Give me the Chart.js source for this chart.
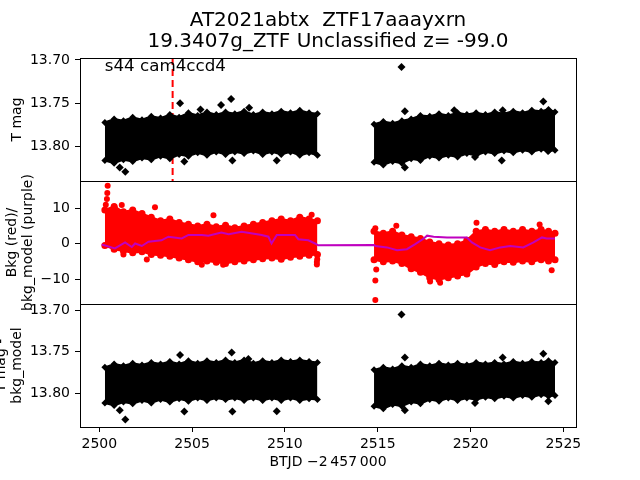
<!DOCTYPE html>
<html>
<head>
<meta charset="utf-8">
<title>AT2021abtx light curve</title>
<script src="https://cdn.jsdelivr.net/npm/chart.js"></script>
<style>
  body { margin: 0; background: #fff; }
</style>
</head>
<body>
<canvas id="lc" width="640" height="480"></canvas>
<script>
// values
var titleLines = ["AT2021abtx  ZTF17aaayxrn", "19.3407g_ZTF Unclassified z= -99.0"];
var sectorLabel = "s44 cam4ccd4";
var xTicks = [2500, 2505, 2510, 2515, 2520, 2525];
var magTicks = [13.70, 13.75, 13.80];
var bkgTicks = [-10, 0, 10];
var xRange = [2498.96, 2525.68];
var magRange = [13.6977, 13.8396];
var bkgRange = [-16.9, 17.65];
var corrRange = [13.6924, 13.8411];
var peakTime = 2503.95;

// sampling times of the band envelopes (two orbits)
var time1 = [2500.3, 2500.8, 2501.3, 2501.8, 2502.3, 2502.8, 2503.3, 2503.8, 2504.3, 2504.8, 2505.3, 2505.8,
             2506.3, 2506.8, 2507.3, 2507.8, 2508.3, 2508.8, 2509.3, 2509.8, 2510.3, 2510.8, 2511.3, 2511.75];
var time2 = [2514.8, 2515.3, 2515.8, 2516.3, 2516.8, 2517.3, 2517.8, 2518.3, 2518.8, 2519.3, 2519.8,
             2520.3, 2520.8, 2521.3, 2521.8, 2522.3, 2522.8, 2523.3, 2523.8, 2524.2, 2524.55];

// T mag, bright / faint edge of the dense band
var tmagTop1 = [13.772, 13.768, 13.770, 13.766, 13.769, 13.765, 13.767, 13.763, 13.766, 13.761, 13.764, 13.760,
                13.763, 13.760, 13.762, 13.759, 13.763, 13.760, 13.762, 13.759, 13.761, 13.758, 13.761, 13.762];
var tmagBot1 = [13.816, 13.819, 13.815, 13.817, 13.813, 13.815, 13.811, 13.814, 13.809, 13.811, 13.807, 13.810,
                13.806, 13.809, 13.806, 13.808, 13.805, 13.809, 13.806, 13.809, 13.806, 13.810, 13.807, 13.810];
var tmagTop2 = [13.774, 13.771, 13.773, 13.770, 13.768, 13.764, 13.765, 13.762, 13.764, 13.761, 13.763,
                13.761, 13.763, 13.760, 13.762, 13.759, 13.761, 13.758, 13.759, 13.757, 13.760];
var tmagBot2 = [13.818, 13.821, 13.817, 13.819, 13.814, 13.816, 13.811, 13.813, 13.810, 13.812, 13.808,
                13.810, 13.806, 13.808, 13.805, 13.807, 13.804, 13.806, 13.803, 13.805, 13.804];
var tmagOutX = [2501.1, 2501.4, 2504.35, 2504.58, 2505.45, 2506.56, 2507.1, 2507.17, 2508.07, 2509.56,
                2516.28, 2516.46, 2516.46, 2519.12, 2520.24, 2521.68, 2521.73, 2523.92, 2524.17];
var tmagOutY = [13.824, 13.829, 13.750, 13.817, 13.757, 13.752, 13.745, 13.816, 13.755, 13.816,
                13.708, 13.759, 13.824, 13.758, 13.812, 13.816, 13.758, 13.748, 13.805];

// background flux, upper / lower edge of the red cloud
var bkgTop1 = [9.5, 10.5, 9.0, 9.5, 8.5, 7.5, 6.5, 7.0, 6.0, 5.5, 5.0, 5.5,
               4.8, 5.2, 4.5, 5.0, 5.5, 6.0, 6.5, 7.0, 6.5, 7.5, 7.0, 6.5];
var bkgBot1 = [-0.5, -1.5, -2.0, -2.5, -2.2, -3.0, -3.2, -3.5, -4.0, -4.5, -5.0, -4.8,
               -5.2, -5.5, -5.0, -4.8, -4.5, -4.2, -4.0, -4.3, -3.8, -3.5, -3.2, -3.0];
var bkgTop2 = [3.5, 3.0, 3.5, 2.5, 2.0, 1.5, 0.5, 0.0, -0.3, 0.0, 1.0,
               3.5, 4.0, 3.5, 4.0, 3.5, 4.0, 3.5, 4.0, 3.5, 3.0];
var bkgBot2 = [-4.5, -5.0, -4.8, -5.5, -7.0, -8.0, -9.5, -10.0, -9.5, -9.0, -8.5,
               -6.5, -5.5, -5.8, -5.0, -5.2, -4.8, -5.0, -4.5, -4.8, -4.5];
var bkgOutX = [2500.45, 2500.43, 2500.41, 2500.35, 2500.82, 2501.21, 2501.3, 2502.56, 2503.0, 2505.52,
               2506.15, 2506.67, 2511.44, 2511.72, 2511.74, 2511.72,
               2514.87, 2514.87, 2514.92, 2514.87, 2516.0, 2517.82, 2518.36, 2520.32, 2523.72, 2524.37];
var bkgOutY = [16.3, 14.3, 12.6, 11.0, 10.3, 10.9, -3.0, -4.4, 10.3, -5.9,
               8.0, -5.9, 8.2, -5.1, -4.3, -5.8,
               -15.8, -10.3, -7.2, 4.4, 5.1, -10.6, -10.9, 5.9, 5.4, -7.4];

// background model (purple)
var modelX = [2500.13, 2500.84, 2501.39, 2501.75, 2501.93, 2502.29, 2502.65, 2503.35, 2503.72, 2504.44,
              2504.8, 2505.52, 2505.87, 2506.57, 2506.97, 2507.67, 2508.75, 2509.11, 2509.28, 2509.56,
              2510.54, 2510.72, 2511.26, 2511.62, 2511.79, 2514.8, 2514.87, 2515.5, 2516.04, 2516.57,
              2517.02, 2517.48, 2517.66, 2518.01, 2518.73, 2519.43, 2519.8, 2520.07, 2520.52, 2521.05,
              2521.6, 2522.14, 2522.84, 2523.39, 2523.85, 2524.1, 2524.55];
var modelY = [-0.2, -1.3, 0.4, -0.9, 0.1, -0.6, 0.6, 1.0, 2.0, 1.5,
              2.5, 2.5, 2.3, 3.2, 2.7, 3.4, 2.5, 2.0, 0.1, 2.5,
              2.5, 1.3, 1.0, 0.1, -0.4, -0.3, -0.6, -1.0, -1.8, -1.5,
              -0.1, 1.5, 2.3, 2.0, 1.8, 1.8, 1.8, 0.4, -1.0, -1.8,
              -1.0, -0.6, -1.0, 0.4, 1.8, 1.5, 1.5];

// T mag minus background model
var corrTop1 = [13.769, 13.765, 13.767, 13.764, 13.766, 13.763, 13.765, 13.762, 13.765, 13.761, 13.764, 13.761,
                13.763, 13.760, 13.763, 13.760, 13.764, 13.761, 13.763, 13.760, 13.762, 13.760, 13.762, 13.763];
var corrBot1 = [13.812, 13.815, 13.811, 13.813, 13.809, 13.812, 13.808, 13.811, 13.807, 13.810, 13.806, 13.809,
                13.806, 13.808, 13.806, 13.809, 13.806, 13.809, 13.806, 13.809, 13.806, 13.809, 13.807, 13.808];
var corrTop2 = [13.772, 13.769, 13.771, 13.767, 13.769, 13.765, 13.767, 13.764, 13.766, 13.764, 13.766,
                13.763, 13.765, 13.763, 13.765, 13.762, 13.764, 13.762, 13.763, 13.761, 13.763];
var corrBot2 = [13.816, 13.819, 13.814, 13.816, 13.811, 13.813, 13.808, 13.810, 13.806, 13.809, 13.806,
                13.808, 13.805, 13.807, 13.804, 13.806, 13.803, 13.805, 13.802, 13.804, 13.803];
var corrOutX = [2501.4, 2501.1, 2507.13, 2504.35, 2504.58, 2507.17, 2509.56, 2508.03,
                2516.28, 2516.46, 2516.46, 2523.92, 2521.73, 2524.19, 2520.24];
var corrOutY = [13.832, 13.821, 13.751, 13.754, 13.8225, 13.8225, 13.822, 13.759,
                13.705, 13.757, 13.821, 13.7526, 13.757, 13.81, 13.812];

var FONT = "DejaVu Sans";

function pts(xs, ys) {
    return xs.map(function (x, i) { return { x: x, y: ys[i] }; });
}

// filled envelope; the sample points get markers so the edge looks ragged like the dense scatter
function band(xs, top, bot, axis, color, style, order) {
    var common = { yAxisID: axis, borderColor: color, backgroundColor: color, borderWidth: 2,
                   pointStyle: style, pointRadius: 3.5, pointBorderWidth: 0, order: order };
    return [
        Object.assign({ data: pts(xs, top), fill: "+1" }, common),
        Object.assign({ data: pts(xs, bot), fill: false }, common)
    ];
}

function scatter(xs, ys, axis, color, style, radius, order) {
    return { data: pts(xs, ys), yAxisID: axis, showLine: false, pointStyle: style, pointRadius: radius,
             backgroundColor: color, borderColor: color, borderWidth: 0, order: order };
}

function yAxis(range, ticks, rev, label, pad, fmt) {
    return {
        type: "linear", position: "left", stack: "panels", stackWeight: 1,
        reverse: rev, min: range[0], max: range[1],
        afterFit: function (s) { s.width = 80; },
        afterBuildTicks: function (s) { s.ticks = ticks.map(function (v) { return { value: v }; }); },
        ticks: { callback: fmt, color: "#000", padding: 5, font: { family: FONT, size: 14 } },
        grid: { drawOnChartArea: false, drawTicks: true, tickLength: 5, tickColor: "#000" },
        border: { display: true, color: "#000", width: 1 },
        title: { display: true, text: label, color: "#000", padding: { top: pad, bottom: 0 },
                 font: { family: FONT, size: 14, lineHeight: 1.15 } }
    };
}

var magFmt = function (v) { return v.toFixed(2); };
var bkgFmt = function (v) { return v < 0 ? "\u2212" + Math.abs(v) : String(v); };

var datasets = [];
datasets.push({ data: pts(modelX, modelY), yAxisID: "yBkg", borderColor: "#bf00bf", borderWidth: 2,
                pointRadius: 0, fill: false, order: 0 });
datasets.push(scatter(bkgOutX, bkgOutY, "yBkg", "#ff0000", "circle", 3, 1));
datasets = datasets.concat(band(time1, bkgTop1, bkgBot1, "yBkg", "#ff0000", "circle", 2));
datasets = datasets.concat(band(time2, bkgTop2, bkgBot2, "yBkg", "#ff0000", "circle", 2));
datasets.push(scatter(tmagOutX, tmagOutY, "yMag", "#000", "rectRot", 4, 1));
datasets = datasets.concat(band(time1, tmagTop1, tmagBot1, "yMag", "#000", "rectRot", 2));
datasets = datasets.concat(band(time2, tmagTop2, tmagBot2, "yMag", "#000", "rectRot", 2));
datasets.push({ data: [{ x: peakTime, y: magRange[0] }, { x: peakTime, y: magRange[1] }], yAxisID: "yMag",
                borderColor: "#ff0000", borderWidth: 2, borderDash: [7, 4], pointRadius: 0, fill: false, order: 5 });
datasets.push(scatter(corrOutX, corrOutY, "yCorr", "#000", "rectRot", 4, 1));
datasets = datasets.concat(band(time1, corrTop1, corrBot1, "yCorr", "#000", "rectRot", 2));
datasets = datasets.concat(band(time2, corrTop2, corrBot2, "yCorr", "#000", "rectRot", 2));

// box around every panel plus the sector note
var panelFrames = {
    id: "panelFrames",
    afterDraw: function (chart) {
        var ctx = chart.ctx, a = chart.chartArea;
        ctx.save();
        ctx.strokeStyle = "#000";
        ctx.lineWidth = 1;
        ["yMag", "yBkg", "yCorr"].forEach(function (id) {
            var s = chart.scales[id];
            ctx.strokeRect(Math.round(a.left) + 0.5, Math.round(s.top) + 0.5,
                           Math.round(a.right - a.left), Math.round(s.bottom - s.top));
        });
        ctx.fillStyle = "#000";
        ctx.font = "16.7px '" + FONT + "'";
        ctx.textAlign = "left";
        ctx.textBaseline = "alphabetic";
        ctx.fillText(sectorLabel, a.left + 0.05 * (a.right - a.left), chart.scales.yMag.top + 13);
        ctx.restore();
    }
};

new Chart(document.getElementById("lc"), {
    type: "line",
    data: { datasets: datasets },
    plugins: [panelFrames],
    options: {
        responsive: false,
        animation: false,
        devicePixelRatio: 1,
        layout: { padding: { left: 0, right: 64, top: 0, bottom: 0 } },
        elements: { line: { tension: 0 } },
        scales: {
            x: {
                type: "linear", min: xRange[0], max: xRange[1],
                afterFit: function (s) { s.height = 53; },
                afterBuildTicks: function (s) { s.ticks = xTicks.map(function (v) { return { value: v }; }); },
                ticks: { color: "#000", padding: 4, maxRotation: 0, font: { family: FONT, size: 14 },
                         callback: function (v) { return String(v); } },
                grid: { drawOnChartArea: false, drawTicks: true, tickLength: 5, tickColor: "#000" },
                border: { display: true, color: "#000", width: 1 },
                title: { display: true, text: "BTJD \u22122\u2009457\u2009000", color: "#000",
                         padding: { top: 0, bottom: 9 }, font: { family: FONT, size: 14 } }
            },
            // left stacked axes are placed bottom-first in reverse order, so list the bottom panel first
            yCorr: yAxis(corrRange, magTicks, true, ["T mag -", "bkg_model"], -7, magFmt),
            yBkg: yAxis(bkgRange, bkgTicks, false, ["Bkg (red)/", "bkg_model (purple)"], 4, bkgFmt),
            yMag: yAxis(magRange, magTicks, true, "T mag", 9, magFmt)
        },
        plugins: {
            legend: { display: false },
            tooltip: { enabled: false },
            title: {
                display: true, text: titleLines, fullSize: false, color: "#000",
                padding: { top: 10, bottom: 6 },
                font: { family: FONT, size: 20, weight: "normal", lineHeight: 21 / 20 }
            }
        }
    }
});
</script>
</body>
</html>
